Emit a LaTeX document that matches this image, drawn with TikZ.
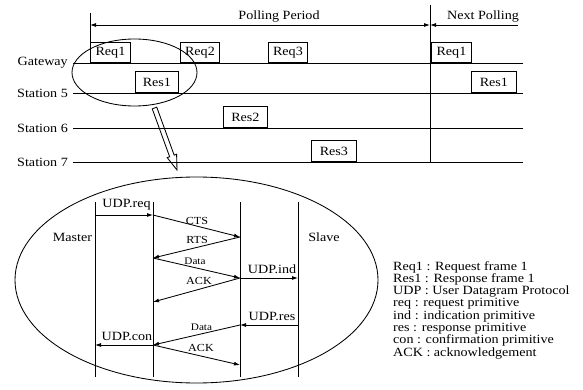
\documentclass[tikz,border=0pt]{standalone}
\usepackage{fontspec}
\setmainfont{Liberation Serif}[FakeStretch=1.12]
\usetikzlibrary{arrows.meta,shapes.geometric,calc}

\begin{document}
\begin{tikzpicture}[x=1pt,y=-1pt,
  every node/.style={font=\fontsize{12.6}{14}\selectfont},
  lane/.style={line width=0.85pt},
  frame/.style={draw, line width=0.85pt, inner sep=0pt, anchor=south west, minimum height=20pt},
  resframe/.style={frame, minimum height=21pt},
  stn/.style={anchor=east, inner xsep=5pt},
  msg/.style={line width=0.85pt, -{Latex[length=6pt,width=4pt]}},
  dim/.style={line width=0.85pt, {Latex[length=6pt,width=4pt]}-{Latex[length=6pt,width=4pt]}},
  small/.style={font=\fontsize{10.8}{12}\selectfont},
  tiny/.style={font=\fontsize{10}{11}\selectfont},
  oval/.style={draw, ellipse, line width=0.85pt, inner sep=0pt}]

\useasboundingbox (0,0) rectangle (583,390);

% ---------------- polling time line ----------------
\node[stn] (gw) at (73,63)  {Gateway};
\node[stn] (s5) at (73,93)  {Station 5};
\node[stn] (s6) at (73,128) {Station 6};
\node[stn] (s7) at (73,162) {Station 7};
\coordinate (gwE) at (523,63);
\coordinate (s5E) at (523,93);
\coordinate (s6E) at (523,128);
\coordinate (s7E) at (523,162);
\draw[lane] (gw.east) -- (gwE);
\draw[lane] (s5.east) -- (s5E);
\draw[lane] (s6.east) -- (s6E);
\draw[lane] (s7.east) -- (s7E);

% frames
\node[frame, minimum width=40pt] (req1) at (90,63)  {Req1};
\node[frame, minimum width=39pt] (req2) at (180,63) {Req2};
\node[frame, minimum width=39pt] (req3) at (268,63) {Req3};
\node[resframe, minimum width=43pt] (res1) at (135,93)  {Res1};
\node[resframe, minimum width=44pt] (res2) at (223,128) {Res2};
\node[resframe, minimum width=45pt] (res3) at (311,162) {Res3};
\node[frame, minimum width=40pt] (nreq1) at (431,63) {Req1};
\node[resframe, minimum width=45pt] (nres1) at (471,93) {Res1};

% period markers
\coordinate (pS) at (90,13);
\coordinate (pE) at (430,5);
\coordinate (pEb) at (430,162);
\draw[lane] (pS) -- (req1.south west);
\draw[lane] (pE) -- (pEb);
\coordinate (dL) at (90,25);
\coordinate (dR) at (430,25);
\coordinate (nR) at (518,25);
\draw[dim] (dL) -- (dR);
\draw[msg] (nR) -- (dR);
\node (pp) at (279,16) {Polling Period};
\node (np) at (483,16) {Next Polling};

% zoomed region and pointer
\node[oval, minimum width=125pt, minimum height=67pt] (zoomA) at (134.5,72.5) {};
\node[oval, minimum width=363pt, minimum height=206pt] (bigE) at (196.5,280) {};
\coordinate (hA) at (154.5,108);
\coordinate (hB) at (177,170);
\coordinate (hH) at ($(hA)!51pt!(hB)$);
\draw[lane, line join=miter]
  ($(hA)!2.4pt!90:(hB)$) -- ($(hH)!2.4pt!-90:(hA)$) -- ($(hH)!5pt!-90:(hA)$)
  -- (hB) -- ($(hH)!5pt!90:(hA)$) -- ($(hH)!2.4pt!90:(hA)$)
  -- ($(hA)!2.4pt!-90:(hB)$) -- cycle;

% ---------------- message sequence ----------------
\coordinate (mT) at (95,202);  \coordinate (mB) at (95,377);
\coordinate (aT) at (153,202); \coordinate (aB) at (153,377);
\coordinate (bT) at (240,202); \coordinate (bB) at (240,377);
\coordinate (sT) at (298,202); \coordinate (sB) at (298,377);
\draw[lane] (mT) -- (mB);
\draw[lane] (aT) -- (aB);
\draw[lane] (bT) -- (bB);
\draw[lane] (sT) -- (sB);

\node (master) at (72.5,237) {Master};
\node (slave)  at (324,237.5) {Slave};

\coordinate (m1) at (95,215);
\coordinate (a1) at (153,215);
\coordinate (b1) at (240,237);
\coordinate (a2) at (153,258);
\coordinate (b3) at (240,278);
\coordinate (s1) at (298,278);
\coordinate (a3) at (153,302);
\coordinate (s2) at (298,325);
\coordinate (b4) at (240,325);
\coordinate (a4) at (153,345);
\coordinate (m2) at (95,345);
\coordinate (b5) at (240,365);

\draw[msg] (m1) -- (a1);
\draw[msg] (a1) -- (b1);
\draw[msg] (b1) -- (a2);
\draw[msg] (a2) -- (b3);
\draw[msg] (b3) -- (s1);
\draw[msg] (b3) -- (a3);
\draw[msg] (s2) -- (b4);
\draw[msg] (b4) -- (a4);
\draw[msg] (a4) -- (m2);
\draw[msg] (a4) -- (b5);

\node (lreq)  at (126.5,205) {UDP.req};
\node[small] (lcts) at (197,221) {CTS};
\node[small] (lrts) at (197,240) {RTS};
\node[tiny] (ldat1) at (195,261) {Data};
\node (lind)  at (272,269) {UDP.ind};
\node[small] (lack1) at (199,281) {ACK};
\node (lres)  at (272,316) {UDP.res};
\node[tiny] (ldat2) at (201.5,327) {Data};
\node (lcon)  at (127,336) {UDP.con};
\node[small] (lack2) at (201,348) {ACK};

% ---------------- legend ----------------
\foreach \t [count=\i] in {Req1 : Request frame 1, Res1 : Response frame 1,
    UDP : User Datagram Protocol, req : request primitive,
    ind : indication primitive, res : response primitive,
    con : confirmation primitive, ACK : acknowledgement}
  \node[anchor=base west, inner sep=0pt] (leg\i) at (393,{257.7+12.3*\i}) {\t};

\end{tikzpicture}
\end{document}
